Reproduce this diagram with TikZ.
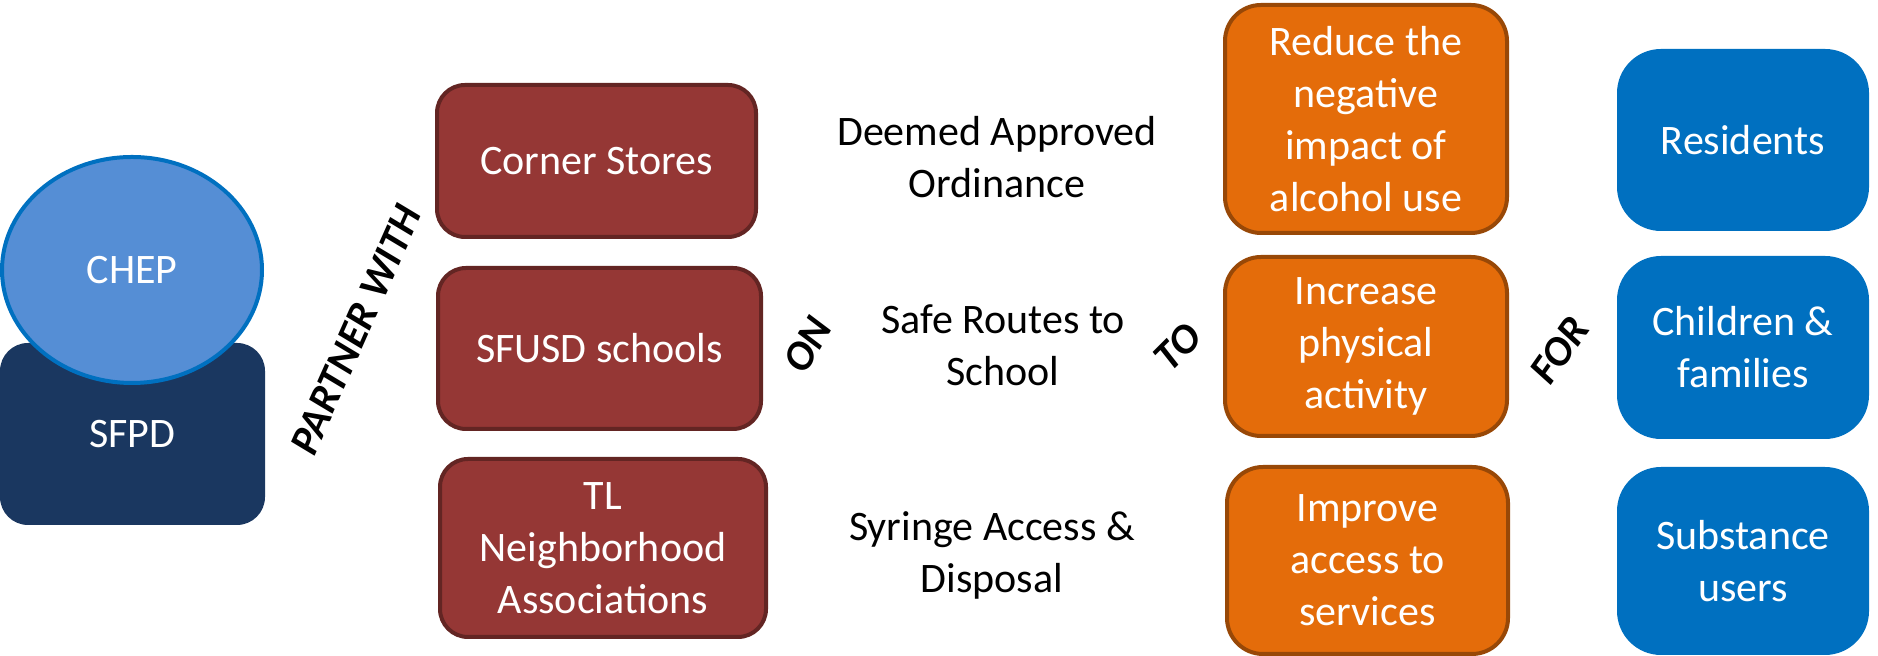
\documentclass[tikz,border=0pt]{standalone}
\usepackage{fontspec}
\setmainfont{Carlito}
\usetikzlibrary{shapes.geometric}
\definecolor{navy}{HTML}{1A3760}
\definecolor{chepfill}{HTML}{558ED5}
\definecolor{chepline}{HTML}{0070C0}
\definecolor{maroon}{HTML}{953735}
\definecolor{maroonline}{HTML}{632523}
\definecolor{orangefill}{HTML}{E46C0A}
\definecolor{orangeline}{HTML}{984807}
\definecolor{bluefill}{HTML}{0070C0}
\begin{document}
\begin{tikzpicture}[x=0.5pt, y=0.5pt,
  every node/.style={font=\fontsize{21}{26}\selectfont, align=center, inner sep=0pt},
  partnerbox/.style={rounded corners=14pt, draw=maroonline, line width=2pt, fill=maroon, text=white},
  aimbox/.style={rounded corners=18pt, draw=orangeline, line width=2pt, fill=orangefill, text=white},
  groupbox/.style={rounded corners=22pt, fill=bluefill, text=white},
  joinword/.style={font=\fontsize{21}{26}\selectfont\bfseries\itshape}]
\useasboundingbox (0,0) rectangle (1878,656);
\node (sfpd)[rounded corners=14pt, fill=navy, text=white, minimum width=132.5pt, minimum height=91pt] at (132.5, 222) {SFPD};
\node (chep)[ellipse, draw=chepline, line width=2pt, fill=chepfill, text=white, minimum width=130pt, minimum height=113pt] at (132, 386) {CHEP};
\node (partner)[joinword, rotate=66] at (356, 326) {PARTNER WITH};
% partners
\node (corner)[partnerbox, minimum width=159.5pt, minimum height=76pt] at (596.5, 495) {Corner Stores};
\node (sfusd)[partnerbox, minimum width=161.5pt, minimum height=80.5pt] at (599.5, 307.5) {SFUSD schools};
\node (tl)[partnerbox, minimum width=163pt, minimum height=89pt] at (603, 108) {TL\\Neighborhood\\Associations};
\node (on)[joinword, rotate=60] at (808, 311) {ON};
% programs
\node (deemed) at (997, 499) {Deemed Approved\\Ordinance};
\node (safe) at (1003, 311) {Safe Routes to\\School};
\node (syringe) at (992, 101) {Syringe Access \&\\Disposal};
\node (to)[joinword, rotate=45] at (1178, 309) {TO};
% aims
\node (reduce)[aimbox, minimum width=141pt, minimum height=114pt] at (1366, 537) {Reduce the\\negative\\impact of\\alcohol use};
\node (increase)[aimbox, minimum width=141pt, minimum height=89.5pt] at (1366, 309.5) {Increase\\physical\\activity};
\node (improve)[aimbox, minimum width=140.5pt, minimum height=93.5pt] at (1367.5, 95.5) {Improve\\access to\\services};
\node (for)[joinword, rotate=55] at (1560, 306) {FOR};
% groups
\node (residents)[groupbox, minimum width=126pt, minimum height=91pt] at (1743, 516) {Residents};
\node (children)[groupbox, minimum width=126pt, minimum height=91.5pt] at (1743, 308.5) {Children \&\\families};
\node (substance)[groupbox, minimum width=126pt, minimum height=94pt] at (1743, 95) {Substance\\users};
\end{tikzpicture}
\end{document}
